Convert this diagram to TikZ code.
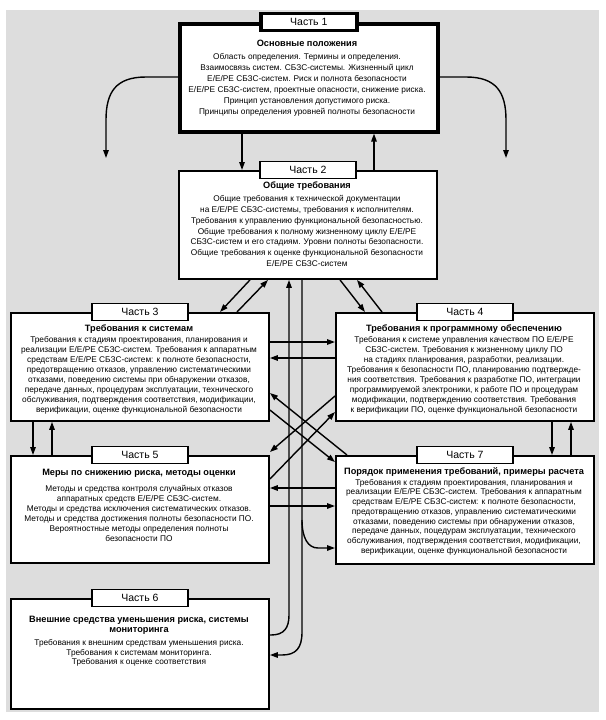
\documentclass[tikz,border=0pt]{standalone}
\usepackage{fontspec}
\setmainfont{Liberation Sans}
\usetikzlibrary{arrows.meta}
\definecolor{bggray}{RGB}{221,221,221}
\begin{document}
\begin{tikzpicture}[x=1pt,y=-1pt,
  box/.style={draw, line width=1.9pt, fill=white, minimum width=258pt, minimum height=108pt, anchor=north west, inner sep=0pt},
  tab/.style={draw, line width=1.9pt, fill=white, minimum width=96pt, minimum height=17pt, inner sep=0pt, font=\fontsize{10.5}{12}\selectfont},
  ttl/.style={align=center, inner sep=0pt, font=\fontsize{9.2}{10}\selectfont\bfseries},
  txt/.style={align=center, inner sep=0pt, font=\fontsize{8.3}{10.5}\selectfont},
  arr/.style={line width=1.4pt, -{Triangle[length=8pt,width=5.5pt]}}]
\useasboundingbox (0,0) rectangle (605,720);
\fill[bggray] (6,10) rectangle (599,712);
% boxes
\node[box, line width=3.6pt] (p1) at (178,22) {};
\node[box] (p2) at (178,170) {};
\node[box] (p3) at (10,312) {};
\node[box] (p4) at (335,312) {};
\node[box, minimum height=107pt] (p5) at (10,455) {};
\node[box] (p7) at (335,455) {};
\node[box, minimum height=110pt] (p6) at (10,598) {};
% tabs
\node[tab, line width=3.4pt] (t1) at (p1.north) {Часть 1};
\node[tab] (t2) at (p2.north) {Часть 2};
\node[tab] (t3) at (p3.north) {Часть 3};
\node[tab] (t4) at (p4.north) {Часть 4};
\node[tab] (t5) at (p5.north) {Часть 5};
\node[tab] (t7) at (p7.north) {Часть 7};
\node[tab] (t6) at (p6.north) {Часть 6};
% texts
\node[ttl] (h1) at (307,43) {Основные положения};
\node[txt, font=\fontsize{8.3}{11}\selectfont] (b1) at (307,84.5) {Область определения. Термины и определения.\\Взаимосвязь систем. СБЗС-системы. Жизненный цикл\\Е/Е/РЕ СБЗС-систем. Риск и полнота безопасности\\Е/Е/РЕ СБЗС-систем, проектные опасности, снижение риска.\\Принцип установления допустимого риска.\\Принципы определения уровней полноты безопасности};
\node[ttl] (h2) at (307,186) {Общие требования};
\node[txt, font=\fontsize{8.3}{10.8}\selectfont] (b2) at (307,231) {Общие требования к технической документации\\на Е/Е/РЕ СБЗС-системы, требования к исполнителям.\\Требования к управлению функциональной безопасностью.\\Общие требования к полному жизненному циклу Е/Е/РЕ\\СБЗС-систем и его стадиям. Уровни полноты безопасности.\\Общие требования к оценке функциональной безопасности\\Е/Е/РЕ СБЗС-систем};
\node[ttl] (h3) at (139,329) {Требования к системам};
\node[txt, font=\fontsize{8.3}{10}\selectfont] (b3) at (139,375.5) {Требования к стадиям проектирования, планирования и\\реализации Е/Е/РЕ СБЗС-систем. Требования к аппаратным\\средствам Е/Е/РЕ СБЗС-систем: к полноте безопасности,\\предотвращению отказов, управлению систематическими\\отказами, поведению системы при обнаружении отказов,\\передаче данных, процедурам эксплуатации, технического\\обслуживания, подтверждения соответствия, модификации,\\верификации, оценке функциональной безопасности};
\node[ttl] (h4) at (464,329) {Требования к программному обеспечению};
\node[txt, font=\fontsize{8.3}{10}\selectfont] (b4) at (464,375.5) {Требования к системе управления качеством ПО Е/Е/РЕ\\СБЗС-систем. Требования к жизненному циклу ПО\\на стадиях планирования, разработки, реализации.\\Требования к безопасности ПО, планированию подтвержде-\\ния соответствия. Требования к разработке ПО, интеграции\\программируемой электроники, к работе ПО и процедурам\\модификации, подтверждению соответствия. Требования\\к верификации ПО, оценке функциональной безопасности};
\node[ttl] (h5) at (139,473) {Меры по снижению риска, методы оценки};
\node[txt, font=\fontsize{8.3}{10}\selectfont] (b5) at (139,513.5) {Методы и средства контроля случайных отказов\\аппаратных средств Е/Е/РЕ СБЗС-систем.\\Методы и средства исключения систематических отказов.\\Методы и средства достижения полноты безопасности ПО.\\Вероятностные методы определения полноты\\безопасности ПО};
\node[ttl] (h7) at (464,472) {Порядок применения требований, примеры расчета};
\node[txt, font=\fontsize{8.3}{9.7}\selectfont] (b7) at (464,517) {Требования к стадиям проектирования, планирования и\\реализации Е/Е/РЕ СБЗС-систем. Требования к аппаратным\\средствам Е/Е/РЕ СБЗС-систем: к полноте безопасности,\\предотвращению отказов, управлению систематическими\\отказами, поведению системы при обнаружении отказов,\\передаче данных, поцедурам эксплуатации, технического\\обслуживания, подтверждения соответствия, модификации,\\верификации, оценке функциональной безопасности};
\node[ttl, font=\fontsize{9.2}{10}\selectfont\bfseries] (h6) at (139,625) {Внешние средства уменьшения риска, системы\\мониторинга};
\node[txt, font=\fontsize{8.3}{9.6}\selectfont] (b6) at (139,653) {Требования к внешним средствам уменьшения риска.\\Требования к системам мониторинга.\\Требования к оценке соответствия};
% helper coordinates
\foreach \v in {33,52,106,220,237,242,250,268,289,302,340,357,347,365,374,382,506,552,571}{\coordinate (X\v) at (\v,0);}
\foreach \v in {77,342,358,393,396,410,412,452,462,479,488,506,548,635,655}{\coordinate (Y\v) at (0,\v);}
\coordinate (L1) at (106,158);
\coordinate (R1) at (506,158);
\coordinate (br) at (302,520);
% connectors
\draw[arr] (p1.west |- Y77) -- (146,77) .. controls (116,77) and (106,92) .. (106,120) -- (L1);
\draw[arr] (p1.east |- Y77) -- (466,77) .. controls (496,77) and (506,92) .. (506,120) -- (R1);
\draw[arr] (p1.south -| X242) -- (p2.north -| X242);
\draw[arr] (p2.north -| X374) -- (p1.south -| X374);
\draw[arr] (p2.south -| X250) -- (p3.north -| X220);
\draw[arr] (p3.north -| X237) -- (p2.south -| X268);
\draw[arr] (p2.south -| X340) -- (p4.north -| X365);
\draw[arr] (p4.north -| X382) -- (p2.south -| X357);
\draw[arr] (p6.east |- Y635) -- (271,635) .. controls (284,635) and (289,628) .. (289,615) -- (p2.south -| X289);
\draw[arr] (p2.south -| X302) -- (302,632) .. controls (302,648) and (296,655) .. (282,655) -- (p6.east |- Y655);
\draw[arr] (br) .. controls (302,538) and (308,548) .. (318,548) -- (p7.west |- Y548);
\draw[arr] (p3.east |- Y342) -- (p4.west |- Y342);
\draw[arr] (p4.west |- Y358) -- (p3.east |- Y358);
\draw[arr] (p7.north -| X347) -- (p3.east |- Y393);
\draw[arr] (p3.east |- Y410) -- (p7.west |- Y462);
\draw[arr] (p5.east |- Y479) -- (p4.west |- Y412);
\draw[arr] (p4.west |- Y396) -- (p5.east |- Y452);
\draw[arr] (p3.south -| X33) -- (p5.north -| X33);
\draw[arr] (p5.north -| X52) -- (p3.south -| X52);
\draw[arr] (p4.south -| X552) -- (p7.north -| X552);
\draw[arr] (p7.north -| X571) -- (p4.south -| X571);
\draw[arr] (p7.west |- Y488) -- (p5.east |- Y488);
\draw[arr] (p5.east |- Y506) -- (p7.west |- Y506);
\end{tikzpicture}
\end{document}
